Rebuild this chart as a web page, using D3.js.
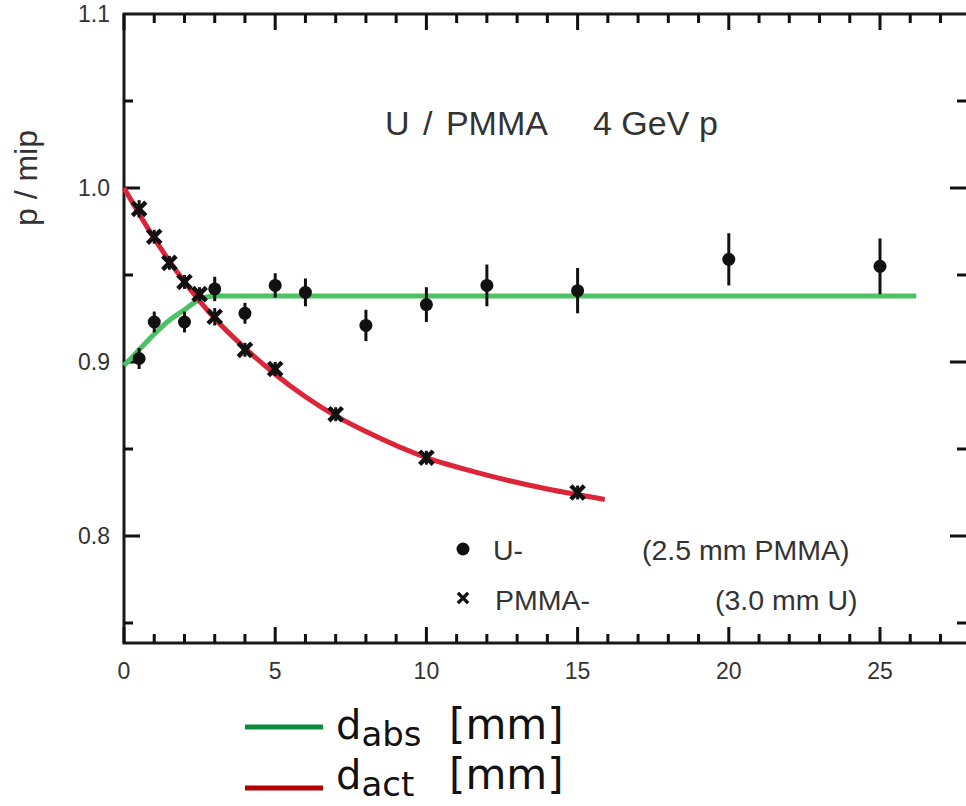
<!DOCTYPE html>
<html>
<head>
<meta charset="utf-8">
<script src="https://cdn.jsdelivr.net/npm/d3@7"></script>
<style>
  body { margin: 0; background: #fff; }
  svg { display: block; }
</style>
</head>
<body>
<script>
// U- layers (dots with error bars)
const uX   = [0.5, 1, 2, 3, 4, 5, 6, 8, 10, 12, 15, 20, 25];
const uY   = [0.902, 0.923, 0.923, 0.942, 0.928, 0.944, 0.940, 0.921, 0.933, 0.944, 0.941, 0.959, 0.955];
const uErr = [0.006, 0.006, 0.006, 0.007, 0.006, 0.007, 0.008, 0.009, 0.010, 0.012, 0.013, 0.015, 0.016];
// PMMA- layers (crosses)
const pX   = [0.5, 1, 1.5, 2, 2.5, 3, 4, 5, 7, 10, 15];
const pY   = [0.988, 0.972, 0.957, 0.946, 0.939, 0.926, 0.907, 0.896, 0.870, 0.845, 0.825];
const pErr = [0.005, 0.004, 0.004, 0.004, 0.004, 0.005, 0.004, 0.004, 0.004, 0.004, 0.004];
// fitted curves
const gX = [0, 0.5, 1, 1.5, 2, 2.5, 3, 26.2];
const gY = [0.898, 0.907, 0.916, 0.924, 0.930, 0.936, 0.938, 0.938];
const rX = [0, 1, 2, 3, 4, 5, 6, 7, 8, 10, 12, 14, 15.9];
const rY = [1.0, 0.971, 0.946, 0.925, 0.908, 0.893, 0.880, 0.869, 0.860, 0.845, 0.835, 0.827, 0.821];

const xMajor = [0, 5, 10, 15, 20, 25];
const yMajor = [0.8, 0.9, 1.0, 1.1];

const width = 966, height = 806;
const svg = d3.select("body").append("svg")
    .attr("width", width)
    .attr("height", height);

const x = d3.scaleLinear().domain([0, 25]).range([124, 880]);
const y = d3.scaleLinear().domain([0.8, 1.0]).range([536, 188]);

const frameL = x(0), frameR = 968, frameT = y(1.1), frameB = y(0.7385);
const ink = "#111";
const font = "'Liberation Sans', Arial, sans-serif";

const xTicks = d3.range(0, 28, 1).map(v => ({v: v, len: v % 5 === 0 ? 16 : 9}));
const yTicks = d3.range(15, 22, 1).map(k => ({v: k / 20, len: k % 2 === 0 ? 16 : 9}));

// frame
svg.append("rect")
    .attr("x", frameL).attr("y", frameT)
    .attr("width", frameR - frameL).attr("height", frameB - frameT)
    .attr("fill", "none").attr("stroke", "#1a1a1a").attr("stroke-width", 3);

// ticks, pointing inwards on all four sides
const tickG = svg.append("g").attr("fill", ink);
xTicks.forEach(d => {
    tickG.append("rect").attr("x", x(d.v) - 1.5).attr("y", frameB - d.len).attr("width", 3).attr("height", d.len);
    tickG.append("rect").attr("x", x(d.v) - 1.5).attr("y", frameT).attr("width", 3).attr("height", d.len);
});
yTicks.forEach(d => {
    tickG.append("rect").attr("x", frameL).attr("y", y(d.v) - 1.5).attr("width", d.len).attr("height", 3);
    tickG.append("rect").attr("x", frameR - 2 - d.len).attr("y", y(d.v) - 1.5).attr("width", d.len + 2).attr("height", 3);
});

// tick labels
const lab = svg.append("g").style("font-family", font).style("font-size", "23px").attr("fill", "#333");
lab.selectAll(".xl").data(xMajor).join("text").attr("class", "xl")
    .attr("x", d => x(d)).attr("y", frameB + 36)
    .attr("text-anchor", "middle").text(d3.format("d"));
lab.selectAll(".ylab").data(yMajor).join("text").attr("class", "ylab")
    .attr("x", 110).attr("y", d => y(d) + 8)
    .attr("text-anchor", "end").text(d3.format(".1f"));

// curves
const line = d3.line().x(d => x(d[0])).y(d => y(d[1])).curve(d3.curveMonotoneX);
svg.append("path").datum(d3.zip(gX, gY)).attr("d", line)
    .attr("fill", "none").attr("stroke", "#4cc264").attr("stroke-width", 5);
svg.append("path").datum(d3.zip(rX, rY)).attr("d", line)
    .attr("fill", "none").attr("stroke", "#dc2538").attr("stroke-width", 5);

// error bars
const uData = uX.map((v, i) => ({x: v, y: uY[i], e: uErr[i]}));
const pData = pX.map((v, i) => ({x: v, y: pY[i], e: pErr[i]}));

svg.append("g").selectAll("line").data(uData.concat(pData)).join("line")
    .attr("x1", d => x(d.x)).attr("x2", d => x(d.x))
    .attr("y1", d => y(d.y - d.e)).attr("y2", d => y(d.y + d.e))
    .attr("stroke", "#111").attr("stroke-width", 3);

svg.append("g").selectAll("circle").data(uData).join("circle")
    .attr("cx", d => x(d.x)).attr("cy", d => y(d.y)).attr("r", 6.5)
    .attr("fill", "#111");

const cross = d3.symbol().type(d3.symbolX).size(120);
svg.append("g").selectAll("path").data(pData).join("path")
    .attr("transform", d => `translate(${x(d.x)},${y(d.y)})`)
    .attr("d", cross)
    .attr("fill", "none").attr("stroke", "#111").attr("stroke-width", 4.5);

// y label
svg.append("text")
    .attr("transform", "translate(37,178) rotate(-90)")
    .attr("text-anchor", "middle")
    .style("font-family", font).style("font-size", "32px").attr("fill", "#333")
    .text("p / mip");

// title
const title = svg.append("g").style("font-family", font).style("font-size", "34px").attr("fill", "#333");
title.append("text").attr("x", 385).attr("y", 135).style("word-spacing", "4px").text("U / PMMA");
title.append("text").attr("x", 593).attr("y", 135).text("4 GeV");
title.append("text").attr("x", 699).attr("y", 135).text("p");

// inner legend
const leg = svg.append("g").style("font-family", font).style("font-size", "28.5px").attr("fill", "#333");
leg.append("circle").attr("cx", 463).attr("cy", 549).attr("r", 6.5).attr("fill", "#111");
leg.append("path").attr("transform", "translate(463,598)").attr("d", d3.symbol().type(d3.symbolX).size(70))
    .attr("fill", "none").attr("stroke", "#111").attr("stroke-width", 3.5);
leg.append("text").attr("x", 493).attr("y", 560).text("U-");
leg.append("text").attr("x", 642).attr("y", 560).text("(2.5 mm PMMA)");
leg.append("text").attr("x", 495).attr("y", 610).text("PMMA-");
leg.append("text").attr("x", 715).attr("y", 610).text("(3.0 mm U)");

// bottom legend
const bl = [
    {sub: "abs", color: "#0b8a3c", yLine: 727, yText: 739},
    {sub: "act", color: "#b00000", yLine: 788, yText: 789}
];
const blg = svg.append("g").style("font-family", "'DejaVu Sans', sans-serif").attr("fill", "#111");
bl.forEach(d => {
    blg.append("line").attr("x1", 245).attr("x2", 323).attr("y1", d.yLine).attr("y2", d.yLine)
        .attr("stroke", d.color).attr("stroke-width", 5);
    const t = blg.append("text").attr("x", 336).attr("y", d.yText).style("font-size", "40px");
    t.append("tspan").text("d");
    t.append("tspan").attr("dy", 7).style("font-size", "34px").text(d.sub);
    blg.append("text").attr("x", 449).attr("y", d.yText).style("font-size", "42px").text("[mm]");
});
</script>
</body>
</html>
